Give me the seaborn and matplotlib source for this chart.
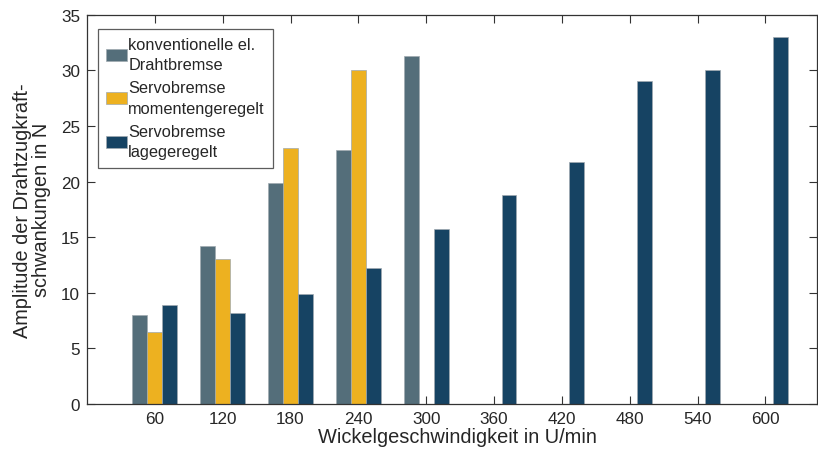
import matplotlib
matplotlib.use("Agg")
import matplotlib.pyplot as plt
import seaborn as sns
import pandas as pd
import numpy as np

speeds = ["60", "120", "180", "240", "300", "360", "420", "480", "540", "600"]
series = ["konventionelle el.\nDrahtbremse", "Servobremse\nmomentengeregelt", "Servobremse\nlagegeregelt"]
konventionell = [8.0, 14.2, 19.9, 22.8, 31.3, None, None, None, None, None]
momentengeregelt = [6.5, 13.0, 23.0, 30.0, None, None, None, None, None, None]
lagegeregelt = [8.9, 8.2, 9.9, 12.2, 15.7, 18.8, 21.8, 29.0, 30.0, 33.0]
colors = ["#546e7a", "#edb120", "#164363"]

rows = []
for name, vals in zip(series, [konventionell, momentengeregelt, lagegeregelt]):
    for s, v in zip(speeds, vals):
        if v is not None:
            rows.append({"speed": s, "series": name, "value": v})
df = pd.DataFrame(rows)

sns.set_theme(style="white")
plt.rcParams["font.family"] = ["Liberation Sans", "DejaVu Sans"]

fig = plt.figure(figsize=(8.18, 4.52), dpi=100)
ax = fig.add_axes([0.1064, 0.104, 0.8924, 0.8613])

sns.barplot(data=df, x="speed", y="value", hue="series", order=speeds,
            hue_order=series, palette=colors, width=0.66, gap=0,
            edgecolor="#a0aab0", linewidth=0.5, errorbar=None, ax=ax,
            saturation=1)

ax.set_xlim(-1, 9.76)
ax.set_ylim(0, 35)
ax.set_yticks(np.arange(0, 36, 5))
ax.set_xlabel("Wickelgeschwindigkeit in U/min", fontsize=14.4, color="#262626", labelpad=1)
ax.xaxis.label.set_x(0.507)
ax.set_ylabel("Amplitude der Drahtzugkraft-\nschwankungen in N", fontsize=14.3, color="#262626",
              labelpad=7, linespacing=1.05)
ax.tick_params(axis="both", direction="in", length=6, width=0.8, color="#333333",
               labelsize=12.3, labelcolor="#262626", top=True, right=True,
               bottom=True, left=True, pad=5)
for sp in ax.spines.values():
    sp.set_visible(True)
    sp.set_color("#333333")
    sp.set_linewidth(0.9)

leg = ax.legend(loc="upper left", bbox_to_anchor=(0.015, 0.964), borderaxespad=0,
                fontsize=11.8, frameon=True, fancybox=False, edgecolor="#333333",
                handlelength=1.3, handleheight=0.75, handletextpad=0.05,
                labelspacing=0.5, borderpad=0.5)
leg.get_frame().set_linewidth(0.9)
for t in leg.get_texts():
    t.set_color("#262626")
    t.set_linespacing(1.45)

fig.savefig("out.png", dpi=100)
